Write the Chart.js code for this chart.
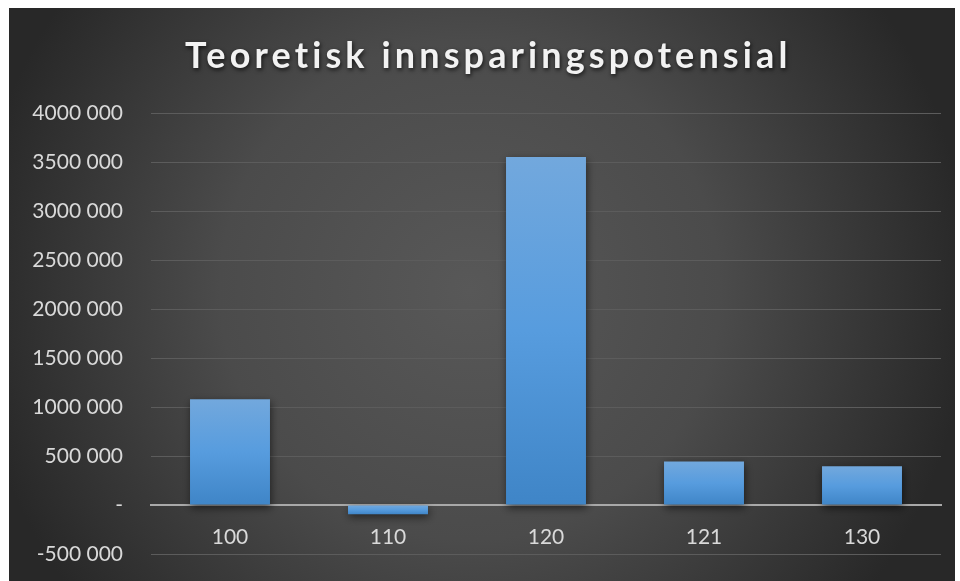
<!DOCTYPE html>
<html><head><meta charset="utf-8">
<script src="https://cdn.jsdelivr.net/npm/chart.js@4/dist/chart.umd.min.js"></script>
<style>html,body{margin:0;padding:0;background:#fff;overflow:hidden}#wrap{width:960px;height:581px;position:relative}</style>
</head><body><div id="wrap"><canvas id="c" width="960" height="581"></canvas></div>
<script>
const titleText = 'Teoretisk innsparingspotensial';
const categories = ['100', '110', '120', '121', '130'];
const values = [1080000, -95000, 3550000, 445000, 395000];
const tickValues = [-500000, 0, 500000, 1000000, 1500000, 2000000, 2500000, 3000000, 3500000, 4000000];
const tickLabels = ['-500 000', '-', '500 000', '1000 000', '1500 000', '2000 000', '2500 000', '3000 000', '3500 000', '4000 000'];

const bgPlugin = {
  id: 'bg',
  beforeDraw(chart) {
    const ctx = chart.ctx;
    ctx.save();
    ctx.fillStyle = '#ffffff';
    ctx.fillRect(0, 0, chart.width, chart.height);
    const g = ctx.createRadialGradient(470, 290, 0, 470, 290, 500);
    g.addColorStop(0, '#585858');
    g.addColorStop(0.5, '#4b4b4b');
    g.addColorStop(1, '#282828');
    ctx.fillStyle = g;
    ctx.fillRect(9, 8, 946, 573);
    ctx.restore();
  }
};

const titlePlugin = {
  id: 'customTitle',
  afterDraw(chart) {
    const ctx = chart.ctx;
    ctx.save();
    ctx.font = 'bold 36px Lato';
    const w0 = ctx.measureText(titleText).width;
    const s = (607 - w0) / titleText.length;
    if ('letterSpacing' in ctx) ctx.letterSpacing = s.toFixed(2) + 'px';
    ctx.fillStyle = '#f2f2f2';
    ctx.textAlign = 'left';
    ctx.textBaseline = 'alphabetic';
    ctx.shadowColor = 'rgba(0,0,0,0.7)';
    ctx.shadowBlur = 4;
    ctx.shadowOffsetX = 1;
    ctx.shadowOffsetY = 2;
    ctx.fillText(titleText, 185, 68);
    ctx.restore();
  }
};

const shadowPlugin = {
  id: 'barShadow',
  beforeDatasetDraw(chart) {
    const ctx = chart.ctx;
    ctx.save();
    ctx.shadowColor = 'rgba(0,0,0,0.55)';
    ctx.shadowBlur = 8;
    ctx.shadowOffsetX = 1;
    ctx.shadowOffsetY = 3;
  },
  afterDatasetDraw(chart) {
    chart.ctx.restore();
  }
};

function barGradient(context) {
  const chart = context.chart;
  const y = chart.scales.y;
  if (!y || context.dataIndex === undefined) return '#5b9bd5';
  const v = values[context.dataIndex];
  const top = y.getPixelForValue(Math.max(v, 0));
  const bot = y.getPixelForValue(Math.min(v, 0));
  if (!isFinite(top) || !isFinite(bot) || bot - top < 1) return '#5b9bd5';
  const g = chart.ctx.createLinearGradient(0, top, 0, bot);
  g.addColorStop(0, '#72a8dd');
  g.addColorStop(0.5, '#579cde');
  g.addColorStop(1, '#3f85c7');
  return g;
}

new Chart(document.getElementById('c'), {
  type: 'bar',
  data: {
    labels: categories,
    datasets: [{
      data: values,
      backgroundColor: barGradient,
      borderWidth: 0,
      categoryPercentage: 1,
      barPercentage: 0.506
    }]
  },
  options: {
    responsive: false,
    animation: false,
    devicePixelRatio: 1,
    layout: { padding: { top: 113, bottom: 27, right: 19, left: 0 } },
    plugins: { legend: { display: false }, title: { display: false }, tooltip: { enabled: false } },
    scales: {
      x: {
        position: { y: 0 },
        z: 1,
        afterFit(scale) { scale.height = 0; scale.paddingLeft = 0; scale.paddingRight = 0; },
        grid: { display: false, drawTicks: false },
        border: { display: true, color: '#a9a9a9', width: 2 },
        ticks: { color: '#d9d9d9', font: { family: 'Lato', size: 21 }, padding: 20 }
      },
      y: {
        min: -500000,
        max: 4000000,
        afterFit(scale) { scale.width = 151; scale.paddingTop = 0; scale.paddingBottom = 0; },
        afterBuildTicks(scale) { scale.ticks = tickValues.map(v => ({ value: v })); },
        grid: { color: '#5c5c5c', lineWidth: 1, drawTicks: false },
        border: { display: false },
        ticks: {
          color: '#d9d9d9',
          font: { family: 'Lato', size: 21 },
          padding: 28,
          callback(value) {
            const i = tickValues.indexOf(value);
            return i >= 0 ? tickLabels[i] : '';
          }
        }
      }
    }
  },
  plugins: [bgPlugin, shadowPlugin, titlePlugin]
});
</script>
</body></html>
